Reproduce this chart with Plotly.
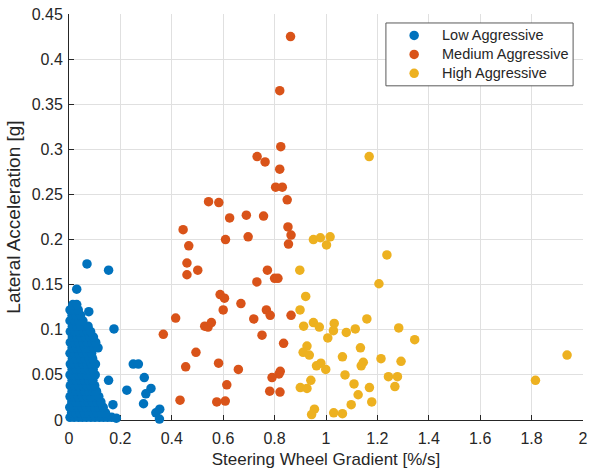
import plotly.graph_objects as go

# ---------------- data ----------------
# Low Aggressive (dense cluster near origin + scattered points)
low_x = [
    0.004, 0.020, 0.037, 0.052, 0.068, 0.085, 0.101, 0.118, 0.134, 0.150, 0.166,
    0.010, 0.027, 0.044, 0.060, 0.077, 0.093, 0.110, 0.126, 0.142,
    0.003, 0.019, 0.035, 0.051, 0.068, 0.084, 0.100, 0.117, 0.133,
    0.011, 0.027, 0.043, 0.060, 0.076, 0.092, 0.108, 0.124,
    0.004, 0.020, 0.036, 0.052, 0.069, 0.085, 0.101, 0.116,
    0.012, 0.028, 0.044, 0.061, 0.077, 0.093, 0.107,
    0.005, 0.021, 0.037, 0.053, 0.069, 0.086, 0.100,
    0.012, 0.029, 0.045, 0.061, 0.078, 0.093,
    0.004, 0.020, 0.037, 0.053, 0.070, 0.086, 0.102,
    0.012, 0.028, 0.045, 0.061, 0.078, 0.094,
    0.005, 0.021, 0.037, 0.054, 0.070, 0.087, 0.103,
    0.013, 0.029, 0.046, 0.062, 0.079, 0.092,
    0.004, 0.021, 0.038, 0.054, 0.071, 0.088,
    0.012, 0.029, 0.046, 0.063, 0.080, 0.097, 0.113,
    0.005, 0.021, 0.038, 0.055, 0.072, 0.089, 0.104,
    0.013, 0.030, 0.047, 0.063, 0.080, 0.095,
    0.005, 0.022, 0.039, 0.056, 0.072, 0.084,
    0.013, 0.030, 0.046, 0.062, 0.074,
    0.004, 0.021, 0.038, 0.054,
    0.012, 0.029, 0.045,
    0.004, 0.020, 0.036,
    0.015, 0.030,
    0.070, 0.154, 0.030, 0.077, 0.175, 0.250, 0.270, 0.293, 0.154,
    0.225, 0.319, 0.299, 0.290, 0.171, 0.338, 0.353, 0.352, 0.184,
]
low_y = [
    0.003, 0.003, 0.003, 0.003, 0.003, 0.003, 0.003, 0.003, 0.003, 0.003, 0.003,
    0.008, 0.008, 0.008, 0.008, 0.008, 0.008, 0.008, 0.008, 0.008,
    0.014, 0.014, 0.014, 0.014, 0.014, 0.014, 0.014, 0.014, 0.014,
    0.020, 0.020, 0.020, 0.020, 0.020, 0.020, 0.020, 0.020,
    0.026, 0.026, 0.026, 0.026, 0.026, 0.026, 0.026, 0.026,
    0.032, 0.032, 0.032, 0.032, 0.032, 0.032, 0.032,
    0.038, 0.038, 0.038, 0.038, 0.038, 0.038, 0.038,
    0.044, 0.044, 0.044, 0.044, 0.044, 0.044,
    0.050, 0.050, 0.050, 0.050, 0.050, 0.050, 0.050,
    0.056, 0.056, 0.056, 0.056, 0.056, 0.056,
    0.062, 0.062, 0.062, 0.062, 0.062, 0.062, 0.062,
    0.068, 0.068, 0.068, 0.068, 0.068, 0.068,
    0.074, 0.074, 0.074, 0.074, 0.074, 0.074,
    0.080, 0.080, 0.080, 0.080, 0.080, 0.080, 0.080,
    0.086, 0.086, 0.086, 0.086, 0.086, 0.086, 0.086,
    0.092, 0.092, 0.092, 0.092, 0.092, 0.092,
    0.098, 0.098, 0.098, 0.098, 0.098, 0.098,
    0.104, 0.104, 0.104, 0.104, 0.104,
    0.110, 0.110, 0.110, 0.110,
    0.116, 0.116, 0.116,
    0.122, 0.122, 0.122,
    0.128, 0.128,
    0.173, 0.166, 0.145, 0.120, 0.101, 0.062, 0.062, 0.047, 0.044,
    0.033, 0.035, 0.029, 0.018, 0.017, 0.008, 0.012, 0.001, 0.002,
]

# Medium Aggressive
med_x = [0.862, 0.820, 0.824, 0.732, 0.763, 0.820, 0.804, 0.830, 0.849, 0.543,
         0.583, 0.625, 0.690, 0.757, 0.444, 0.852, 0.864, 0.854, 0.609, 0.697,
         0.466, 0.459, 0.459, 0.501, 0.772, 0.800, 0.731, 0.588, 0.605, 0.669,
         0.600, 0.415, 0.768, 0.783, 0.719, 0.864, 0.528, 0.541, 0.554, 0.751,
         0.835, 0.367, 0.494, 0.454, 0.582, 0.659, 0.822, 0.817, 0.790, 0.614,
         0.781, 0.821, 0.432, 0.575, 0.608, 0.813]
med_y = [0.425, 0.365, 0.303, 0.292, 0.286, 0.278, 0.258, 0.258, 0.244, 0.242,
         0.241, 0.224, 0.227, 0.226, 0.211, 0.214, 0.205, 0.195, 0.200, 0.203,
         0.193, 0.174, 0.161, 0.166, 0.166, 0.157, 0.153, 0.139, 0.135, 0.129,
         0.122, 0.113, 0.122, 0.116, 0.112, 0.116, 0.104, 0.103, 0.108, 0.094,
         0.085, 0.095, 0.075, 0.059, 0.063, 0.056, 0.054, 0.051, 0.047, 0.039,
         0.032, 0.031, 0.022, 0.020, 0.021, 0.157]

# High Aggressive
high_x = [1.168, 0.951, 0.978, 1.002, 1.016, 1.237, 0.898, 1.206, 0.921, 0.899,
          1.159, 0.913, 0.951, 0.974, 1.032, 1.029, 1.114, 1.079, 1.283, 1.007,
          1.345, 0.926, 0.911, 0.935, 1.134, 1.064, 1.214, 1.292, 0.980, 0.963,
          0.999, 1.145, 1.137, 1.074, 0.941, 1.243, 1.278, 0.900, 0.926, 1.109,
          1.169, 1.268, 1.125, 1.178, 1.098, 0.955, 0.944, 1.030, 1.064, 1.815,
          1.938]
high_y = [0.292, 0.200, 0.202, 0.194, 0.203, 0.183, 0.166, 0.151, 0.137, 0.122,
          0.112, 0.104, 0.108, 0.103, 0.107, 0.099, 0.101, 0.097, 0.102, 0.091,
          0.089, 0.082, 0.075, 0.072, 0.080, 0.070, 0.068, 0.065, 0.063, 0.060,
          0.056, 0.064, 0.060, 0.050, 0.044, 0.048, 0.048, 0.036, 0.035, 0.040,
          0.036, 0.037, 0.028, 0.020, 0.017, 0.012, 0.006, 0.008, 0.007, 0.044,
          0.072]

series_names = ["Low Aggressive", "Medium Aggressive", "High Aggressive"]
series_colors = ["#0072BD", "#D95319", "#EDB120"]

x_ticks = [0, 0.2, 0.4, 0.6, 0.8, 1, 1.2, 1.4, 1.6, 1.8, 2]
x_tick_labels = ["0", "0.2", "0.4", "0.6", "0.8", "1", "1.2", "1.4", "1.6", "1.8", "2"]
y_ticks = [0, 0.05, 0.1, 0.15, 0.2, 0.25, 0.3, 0.35, 0.4, 0.45]
y_tick_labels = ["0", "0.05", "0.1", "0.15", "0.2", "0.25", "0.3", "0.35", "0.4", "0.45"]

# ---------------- figure ----------------
FONT = "Liberation Sans, Arial, sans-serif"
TXT = "#262626"
W, H = 594, 473
ML, MR, MT, MB = 69, 6, 13, 53
PW, PH = W - ML - MR, H - MT - MB


def px_to_paper(px, py):
    return (px - ML) / PW, (H - MB - py) / PH


fig = go.Figure()
for name, color, xs, ys in zip(series_names, series_colors,
                               [low_x, med_x, high_x], [low_y, med_y, high_y]):
    fig.add_trace(go.Scatter(
        x=xs, y=ys, mode="markers", name=name, cliponaxis=False,
        marker=dict(color=color, size=9.5, line=dict(width=0)),
    ))

axis_common = dict(
    showline=True, linecolor=TXT, linewidth=1,
    ticks="inside", ticklen=5, tickcolor=TXT, tickwidth=1,
    showgrid=True, gridcolor="#e0e0e0", gridwidth=1,
    zeroline=False, mirror=False, layer="below traces",
    tickfont=dict(family=FONT, size=16, color=TXT),
)

fig.update_xaxes(
    range=[0, 2], tickvals=x_ticks, ticktext=x_tick_labels,
    ticklabelstandoff=4,
    title=dict(text="Steering Wheel Gradient [%/s]",
               font=dict(family=FONT, size=17, color=TXT), standoff=6),
    **axis_common,
)
fig.update_yaxes(
    range=[0, 0.45], tickvals=y_ticks, ticktext=y_tick_labels,
    ticklabelstandoff=2,
    title=dict(text="Lateral Acceleration [g]",
               font=dict(family=FONT, size=19, color=TXT), standoff=6),
    **axis_common,
)

# ---- legend (box, symbols, labels) ----
bx0, by0 = px_to_paper(389, 85)
bx1, by1 = px_to_paper(578, 22)
shapes = [dict(type="rect", xref="paper", yref="paper", x0=bx0, y0=by0, x1=bx1, y1=by1,
               line=dict(color="#5a5a5a", width=1), fillcolor="white", layer="above")]
annotations = []
row_py = [34.5, 53.5, 72.5]
for name, color, py in zip(series_names, series_colors, row_py):
    mx, my = px_to_paper(417.5, py)
    shapes.append(dict(type="circle", xref="paper", yref="paper",
                       xsizemode="pixel", ysizemode="pixel", xanchor=mx, yanchor=my,
                       x0=-4.75, x1=4.75, y0=-4.75, y1=4.75,
                       line=dict(width=0), fillcolor=color, layer="above"))
    tx, ty = px_to_paper(444, py)
    annotations.append(dict(xref="paper", yref="paper", x=tx, y=ty, text=name,
                            showarrow=False, xanchor="left", yanchor="middle",
                            font=dict(family=FONT, size=14.5, color=TXT)))

fig.update_layout(
    width=W, height=H,
    margin=dict(l=ML, r=MR, t=MT, b=MB),
    paper_bgcolor="white", plot_bgcolor="white",
    font=dict(family=FONT, color=TXT),
    showlegend=False,
    shapes=shapes, annotations=annotations,
)

fig.write_html("out.html")
